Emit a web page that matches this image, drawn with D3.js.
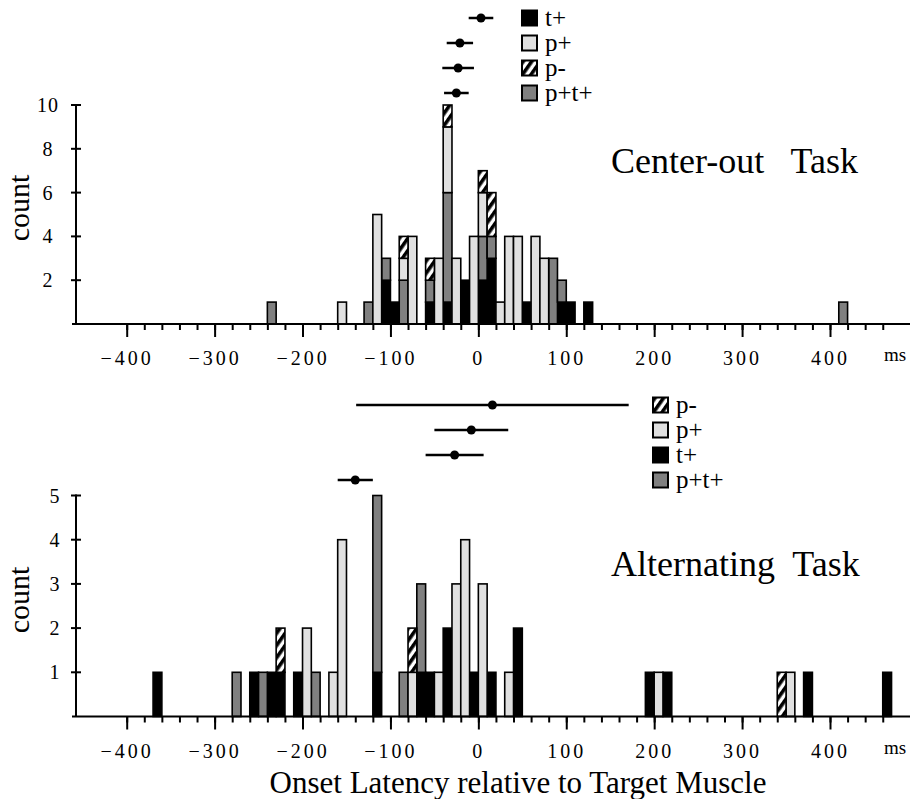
<!DOCTYPE html>
<html>
<head>
<meta charset="utf-8">
<script src="https://cdn.jsdelivr.net/npm/d3@7"></script>
<style>
  body { margin: 0; background: #fff; }
  svg text { font-family: "Liberation Serif", "Times New Roman", serif; fill: #000; }
</style>
</head>
<body>
<svg id="chart" width="910" height="799"></svg>
<script>
// categories and colours
var keys = ["tp", "ptp", "pp", "pm"];
var names = { tp: "t+", ptp: "p+t+", pp: "p+", pm: "p-" };

// Center-out task, 10 ms bins (bin start)
var topBins   = [-240,-160,-130,-120,-110,-100,-90,-80,-60,-50,-40,-30,-20,-10,0,10,20,30,40,50,60,70,80,90,100,120,410];
var topTplus  = [0,0,0,0,2,1,0,0,1,0, 1,0,2,0,2,3,0,0,0,1, 0,0,0,1,1,1,0];
var topPTplus = [1,0,1,0,1,0,2,0,1,0, 5,0,0,0,2,1,0,0,0,0, 0,0,3,1,0,0,1];
var topPplus  = [0,1,0,5,0,0,1,4,0,3, 3,3,0,4,2,0,1,4,4,0, 4,3,0,0,0,0,0];
var topPminus = [0,0,0,0,0,0,1,0,1,0, 1,0,0,0,1,2,0,0,0,0, 0,0,0,0,0,0,0];

// Alternating task
var botBins   = [-370,-280,-260,-250,-240,-230,-210,-200,-190,-170,-160,-120,-90,-80,-70,-60,-50,-40,-30,-20,-10,0,10,30,40,190,200,210,340,350,370,460];
var botTplus  = [1,0,1,0,1,1,1,0,0,0,0,1,0,0,1,1,0,2,0,0,1,0,1,0,2,1,0,1,0,0,1,1];
var botPTplus = [0,1,0,1,0,0,0,0,1,0,0,4,1,0,2,0,0,0,0,0,0,0,0,0,0,0,0,0,0,0,0,0];
var botPplus  = [0,0,0,0,0,0,0,2,0,1,4,0,0,1,0,0,1,0,3,4,0,3,0,1,0,0,1,0,0,1,0,0];
var botPminus = [0,0,0,0,0,1,0,0,0,0,0,0,0,1,0,0,0,0,0,0,0,0,0,0,0,0,0,0,1,0,0,0];

// mean onset +/- error, in legend order
var topLegend = ["tp", "pp", "pm", "ptp"];
var topMean   = [3, -21, -23, -25];
var topErr    = [14, 15, 18, 14];
var botLegend = ["pm", "pp", "tp", "ptp"];
var botMean   = [16, -8, -27, -140];
var botErr    = [155, 42, 33, 20];

var xTicks = [-400, -300, -200, -100, 0, 100, 200, 300, 400];
var binWidth = 10;

var svg = d3.select("#chart");

// hatch pattern for p-
svg.append("defs").append("pattern")
  .attr("id", "hatch")
  .attr("patternUnits", "userSpaceOnUse")
  .attr("width", 7).attr("height", 7)
  .attr("patternTransform", "rotate(35)")
  .call(function (p) {
    p.append("rect").attr("width", 7).attr("height", 7).attr("fill", "#fff");
    p.append("rect").attr("width", 3.6).attr("height", 7).attr("fill", "#000");
  });

var fills = { tp: "#000", ptp: "#808080", pp: "#e0e0e0", pm: "url(#hatch)" };

var x = d3.scaleLinear().domain([-400, 400]).range([126.7, 830]);

function drawPanel(opt) {
  var g = svg.append("g");
  var y = d3.scaleLinear().domain([0, opt.ymax]).range([opt.base, opt.top]);

  var rows = opt.bins.map(function (b, i) {
    return { bin: b, tp: opt.tp[i], ptp: opt.ptp[i], pp: opt.pp[i], pm: opt.pm[i] };
  });
  var series = d3.stack().keys(keys)(rows);

  g.selectAll("g.layer")
    .data(series)
    .enter()
    .append("g")
    .attr("class", "layer")
    .attr("fill", function (s) { return fills[s.key]; })
    .selectAll("rect")
    .data(function (s) { return s.filter(function (d) { return d[1] > d[0]; }); })
    .enter()
    .append("rect")
    .attr("x", function (d) { return x(d.data.bin); })
    .attr("width", function (d) { return x(d.data.bin + binWidth) - x(d.data.bin); })
    .attr("y", function (d) { return y(d[1]); })
    .attr("height", function (d) { return y(d[0]) - y(d[1]); })
    .attr("stroke", "#000")
    .attr("stroke-width", 1.6);

  // x axis
  g.append("line")
    .attr("x1", 72).attr("x2", 910)
    .attr("y1", opt.base).attr("y2", opt.base)
    .attr("stroke", "#000").attr("stroke-width", 2);

  var minor = d3.range(-400, 480, 20);
  g.append("g")
    .attr("transform", "translate(0," + opt.base + ")")
    .call(d3.axisBottom(x).tickValues(minor).tickSize(6).tickFormat(""))
    .call(function (a) {
      a.select(".domain").remove();
      a.selectAll("line").attr("stroke-width", 2);
    });
  g.append("g")
    .attr("transform", "translate(0," + opt.base + ")")
    .call(d3.axisBottom(x).tickValues(xTicks).tickSize(13).tickPadding(14))
    .call(function (a) {
      a.select(".domain").remove();
      a.selectAll("line").attr("stroke-width", 2);
      a.selectAll("text")
        .attr("font-size", 20)
        .attr("letter-spacing", 3);
    });
  g.append("text")
    .attr("x", 884).attr("y", opt.base + 37)
    .attr("font-size", 19)
    .text("ms");

  // y axis
  g.append("line")
    .attr("x1", 76).attr("x2", 76)
    .attr("y1", y(opt.ymax) - 1).attr("y2", opt.base)
    .attr("stroke", "#000").attr("stroke-width", 2);
  var yt = g.selectAll("g.ytick")
    .data(opt.yTicks)
    .enter()
    .append("g")
    .attr("class", "ytick")
    .attr("transform", function (d) { return "translate(76," + y(d) + ")"; });
  yt.append("line")
    .attr("x1", -5).attr("x2", 5)
    .attr("stroke", "#000").attr("stroke-width", 2);
  yt.append("text")
    .attr("x", opt.ylabelX - 76)
    .attr("y", 7)
    .attr("text-anchor", "middle")
    .attr("font-size", 20)
    .attr("letter-spacing", 1)
    .text(function (d) { return d; });

  g.append("text")
    .attr("transform", "translate(29," + opt.countY + ") rotate(-90)")
    .attr("text-anchor", "middle")
    .attr("font-size", 30)
    .text("count");

  g.append("text")
    .attr("x", 611).attr("y", opt.titleY)
    .attr("font-size", 36)
    .attr("xml:space", "preserve")
    .style("white-space", "pre")
    .text(opt.title);

  // error bars + legend
  opt.legend.forEach(function (k, i) {
    var ry = opt.legendY + i * 25;
    g.append("line")
      .attr("x1", x(opt.mean[i] - opt.err[i]))
      .attr("x2", x(opt.mean[i] + opt.err[i]))
      .attr("y1", ry).attr("y2", ry)
      .attr("stroke", "#000").attr("stroke-width", 2.5);
    g.append("circle")
      .attr("cx", x(opt.mean[i])).attr("cy", ry).attr("r", 4.5)
      .attr("fill", "#000");
    g.append("rect")
      .attr("x", opt.legendX).attr("y", ry - 7.5)
      .attr("width", 15).attr("height", 15)
      .attr("fill", fills[k])
      .attr("stroke", "#000").attr("stroke-width", 2);
    g.append("text")
      .attr("x", opt.legendX + 23).attr("y", ry + 8)
      .attr("font-size", 25)
      .text(names[k]);
  });
}

drawPanel({
  bins: topBins, tp: topTplus, ptp: topPTplus, pp: topPplus, pm: topPminus,
  ymax: 10, yTicks: [2, 4, 6, 8, 10], base: 324, top: 105, ylabelX: 48, countY: 208,
  title: "Center-out   Task", titleY: 173,
  legend: topLegend, mean: topMean, err: topErr, legendX: 522, legendY: 18
});

drawPanel({
  bins: botBins, tp: botTplus, ptp: botPTplus, pp: botPplus, pm: botPminus,
  ymax: 5, yTicks: [1, 2, 3, 4, 5], base: 716.5, top: 495.5, ylabelX: 55, countY: 600,
  title: "Alternating  Task", titleY: 576,
  legend: botLegend, mean: botMean, err: botErr, legendX: 653, legendY: 405
});

svg.append("text")
  .attr("x", 518).attr("y", 793)
  .attr("text-anchor", "middle")
  .attr("font-size", 31)
  .text("Onset Latency relative to Target Muscle");
</script>
</body>
</html>
